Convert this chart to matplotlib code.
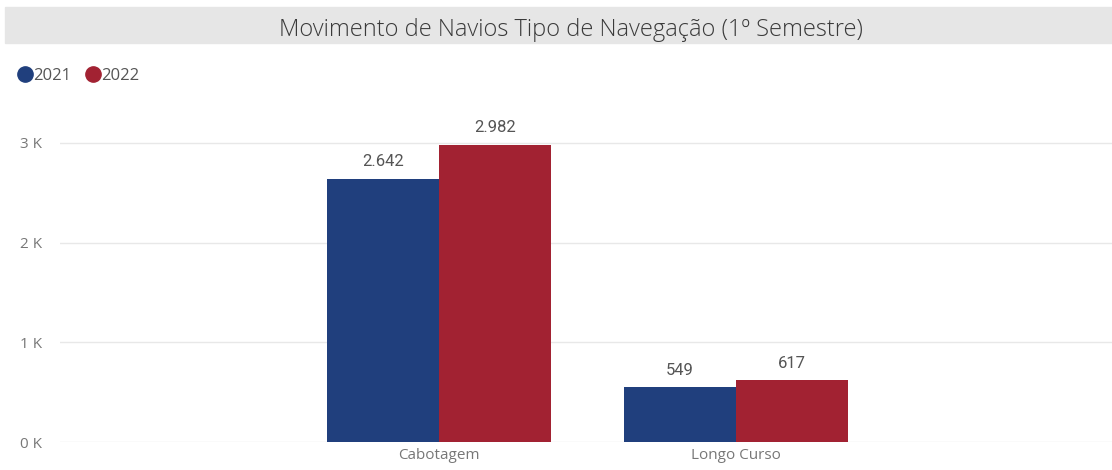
import numpy as np
import matplotlib.pyplot as plt
from matplotlib.lines import Line2D
from matplotlib.patches import Rectangle

# dados
categorias = ["Cabotagem", "Longo Curso"]
anos = ["2021", "2022"]
valores_2021 = [2642, 549]
valores_2022 = [2982, 617]
rotulos_2021 = ["2.642", "549"]
rotulos_2022 = ["2.982", "617"]

cor_2021 = "#203f7d"
cor_2022 = "#a22232"

plt.rcParams["font.family"] = ["Open Sans", "DejaVu Sans"]

fig = plt.figure(figsize=(11.12, 4.70), dpi=100)

# faixa do titulo
fig.patches.append(Rectangle((5 / 1112, 1 - 43 / 470), 1, 36 / 470,
                             transform=fig.transFigure, color="#e6e6e6", zorder=0))
fig.text(571 / 1112, 1 - 30 / 470, "Movimento de Navios Tipo de Navegação (1º Semestre)",
         ha="center", va="center", fontsize=17, color="#3a3a3a", fontweight="light")

ax = fig.add_axes([60 / 1112, 28 / 470, 1 - 60 / 1112, 329 / 470])

x = np.arange(len(categorias))
largura = 0.378
b1 = ax.bar(x - largura / 2, valores_2021, largura, color=cor_2021, zorder=2)
b2 = ax.bar(x + largura / 2, valores_2022, largura, color=cor_2022, zorder=2)

for barras, rotulos in ((b1, rotulos_2021), (b2, rotulos_2022)):
    for b, r in zip(barras, rotulos):
        ax.annotate(r, (b.get_x() + b.get_width() / 2, b.get_height()),
                    xytext=(0, 7), textcoords="offset points", ha="center", va="bottom",
                    fontsize=12, color="#555555", family=["Roboto", "DejaVu Sans"])

ax.set_xlim(-1.28, 2.27)
ax.set_ylim(0, 3300)
ax.set_yticks([0, 1000, 2000, 3000])
ax.set_yticklabels(["0 K", "1 K", "2 K", "3 K"])
ax.set_xticks(x)
ax.set_xticklabels(categorias)
ax.tick_params(length=0, colors="#777777", labelsize=11)
ax.tick_params(axis="y", pad=13)
ax.tick_params(axis="x", pad=4)
ax.grid(axis="y", color="#e8e8e8", linewidth=1, zorder=0)
for s in ax.spines.values():
    s.set_visible(False)

handles = [Line2D([], [], marker="o", linestyle="", markersize=11, color=cor_2021),
           Line2D([], [], marker="o", linestyle="", markersize=11, color=cor_2022)]
fig.legend(handles, anos, loc="center left", bbox_to_anchor=(0 / 1112, 1 - 76 / 470),
           ncol=2, frameon=False, handletextpad=-0.1, columnspacing=0.7,
           handlelength=1.2, fontsize=12, labelcolor="#555555")

fig.savefig("out.png", dpi=100)
